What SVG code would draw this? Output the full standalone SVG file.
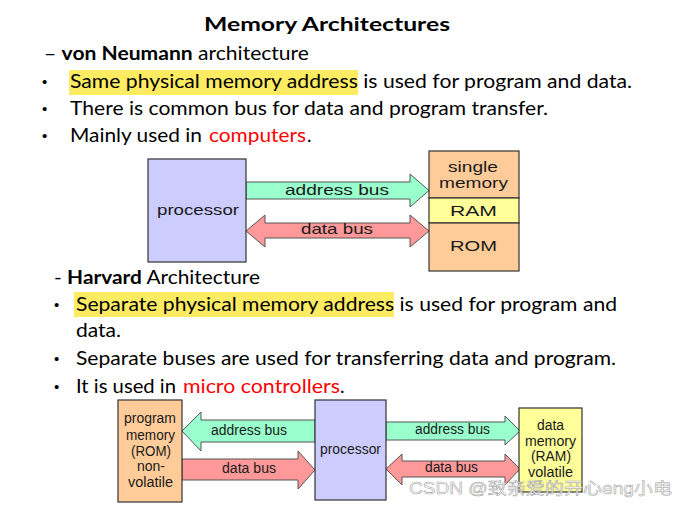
<svg xmlns="http://www.w3.org/2000/svg" width="688" height="516" viewBox="0 0 688 516">
<style>
.body{font-family:Lato,"Open Sans","Liberation Sans",sans-serif;font-size:19px;fill:#000}
.bul{font-family:"Liberation Sans",sans-serif;font-size:15px;fill:#000}
.b{font-weight:bold}
.red{fill:#ff0000}
.hl{fill:#fdec62}
.dg{font-family:"Liberation Sans",Arial,sans-serif;font-size:15px;fill:#1a1a1a;text-anchor:middle}
.dg2{font-family:"Liberation Sans",Arial,sans-serif;font-size:14px;fill:#1a1a1a;text-anchor:middle}
.box{stroke:#333;stroke-width:1.2}
.proc{fill:#ccccff}
.mem{fill:#ffcc99}
.ram{fill:#ffff99}
.green{fill:#99ffcc;stroke:#555;stroke-width:1}
.pink{fill:#ff9999;stroke:#555;stroke-width:1}
</style>
<rect width="688" height="516" fill="#ffffff"/>

<g id="text-block">
<text class="body b" x="204" y="31" font-size="24" textLength="246" lengthAdjust="spacingAndGlyphs">Memory Architectures</text>
<text class="body" x="44" y="60" textLength="265" lengthAdjust="spacingAndGlyphs">– <tspan class="b">von Neumann</tspan> architecture</text>
<rect class="hl" x="69" y="70" width="289" height="25"/>
<text class="bul" x="42" y="87">•</text>
<text class="body" x="70" y="88" textLength="562" lengthAdjust="spacingAndGlyphs">Same physical memory address is used for program and data.</text>
<text class="bul" x="42" y="114">•</text>
<text class="body" x="70" y="115" textLength="478" lengthAdjust="spacingAndGlyphs">There is common bus for data and program transfer.</text>
<text class="bul" x="42" y="141">•</text>
<text class="body" x="70" y="142" textLength="132" lengthAdjust="spacingAndGlyphs">Mainly used in</text>
<text class="body red" x="209" y="142" textLength="97" lengthAdjust="spacingAndGlyphs">computers</text>
<text class="body" x="307" y="142">.</text>

<text class="body" x="54" y="284" textLength="206" lengthAdjust="spacingAndGlyphs">- <tspan class="b">Harvard</tspan> Architecture</text>
<rect class="hl" x="74" y="292" width="320" height="25"/>
<text class="bul" x="54" y="310">•</text>
<text class="body" x="76" y="311" textLength="541" lengthAdjust="spacingAndGlyphs">Separate physical memory address is used for program and</text>
<text class="body" x="76" y="337" textLength="45" lengthAdjust="spacingAndGlyphs">data.</text>
<text class="bul" x="54" y="364">•</text>
<text class="body" x="76" y="365" textLength="540" lengthAdjust="spacingAndGlyphs">Separate buses are used for transferring data and program.</text>
<text class="bul" x="54" y="392">•</text>
<text class="body" x="76" y="393" textLength="100" lengthAdjust="spacingAndGlyphs">It is used in</text>
<text class="body red" x="183" y="393" textLength="157" lengthAdjust="spacingAndGlyphs">micro controllers</text>
<text class="body" x="340" y="393">.</text>
</g>

<g id="connectors">
<polygon class="green" points="246,182 410,182 410,174 429,190.5 410,207 410,199 246,199"/>
<polygon class="pink" points="246,231 265,215 265,223 410,223 410,215 429,231 410,247 410,238 265,238 265,247"/>
<polygon class="green" points="182,431 201,412 201,420 315,420 315,442 201,442 201,451"/>
<polygon class="pink" points="182,459 298,459 298,451 315,470 298,489 298,480 182,480"/>
<polygon class="green" points="386,422 505,422 505,416 520,431 505,445 505,440 386,440"/>
<polygon class="pink" points="386,469 402,454 402,461 505,461 505,454 520,469 505,485 505,477 402,477 402,485"/>
<text class="dg" x="337" y="195" textLength="104" lengthAdjust="spacingAndGlyphs">address bus</text>
<text class="dg" x="337" y="234" textLength="72" lengthAdjust="spacingAndGlyphs">data bus</text>
<text class="dg2" x="249" y="435" textLength="76" lengthAdjust="spacingAndGlyphs">address bus</text>
<text class="dg2" x="249" y="473" textLength="54" lengthAdjust="spacingAndGlyphs">data bus</text>
<text class="dg2" x="452.5" y="434" textLength="75" lengthAdjust="spacingAndGlyphs">address bus</text>
<text class="dg2" x="451.5" y="472" textLength="53" lengthAdjust="spacingAndGlyphs">data bus</text>
</g>

<g id="processor-top">
<rect class="box proc" x="148" y="159" width="98" height="103"/>
<text class="dg" x="198" y="215" textLength="82" lengthAdjust="spacingAndGlyphs">processor</text>
</g>

<g id="memory-top">
<rect class="box mem" x="429" y="151" width="90" height="47"/>
<rect class="box ram" x="429" y="198" width="90" height="25"/>
<rect class="box mem" x="429" y="223" width="90" height="48"/>
<text class="dg" x="473" y="172" textLength="50" lengthAdjust="spacingAndGlyphs">single</text>
<text class="dg" x="473.5" y="188" textLength="69" lengthAdjust="spacingAndGlyphs">memory</text>
<text class="dg" x="473.5" y="216" textLength="47" lengthAdjust="spacingAndGlyphs">RAM</text>
<text class="dg" x="473.5" y="251" textLength="47" lengthAdjust="spacingAndGlyphs">ROM</text>
</g>

<g id="program-memory">
<rect class="box mem" x="118" y="400" width="64" height="102"/>
<text class="dg2" x="150" y="423" textLength="52" lengthAdjust="spacingAndGlyphs">program</text>
<text class="dg2" x="150.5" y="440" textLength="49" lengthAdjust="spacingAndGlyphs">memory</text>
<text class="dg2" x="151" y="456" textLength="40" lengthAdjust="spacingAndGlyphs">(ROM)</text>
<text class="dg2" x="151" y="471" textLength="28" lengthAdjust="spacingAndGlyphs">non-</text>
<text class="dg2" x="150.5" y="487" textLength="45" lengthAdjust="spacingAndGlyphs">volatile</text>
</g>

<g id="processor-bottom">
<rect class="box proc" x="315" y="400" width="71" height="100"/>
<text class="dg2" x="350.5" y="454" textLength="61" lengthAdjust="spacingAndGlyphs">processor</text>
</g>

<g id="data-memory">
<rect class="box ram" x="519" y="408" width="63" height="84"/>
<text class="dg2" x="550.5" y="430" textLength="27" lengthAdjust="spacingAndGlyphs">data</text>
<text class="dg2" x="550.5" y="446" textLength="51" lengthAdjust="spacingAndGlyphs">memory</text>
<text class="dg2" x="551" y="461" textLength="40" lengthAdjust="spacingAndGlyphs">(RAM)</text>
<text class="dg2" x="550.5" y="477" textLength="45" lengthAdjust="spacingAndGlyphs">volatile</text>
</g>

<text x="409" y="494" font-family="'Liberation Sans','Noto Sans CJK SC',sans-serif" font-size="16" fill="#ffffff" stroke="#a0a0a0" stroke-width="0.5" textLength="263" lengthAdjust="spacingAndGlyphs">CSDN @致亲爱的开心eng小电</text>
</svg>
